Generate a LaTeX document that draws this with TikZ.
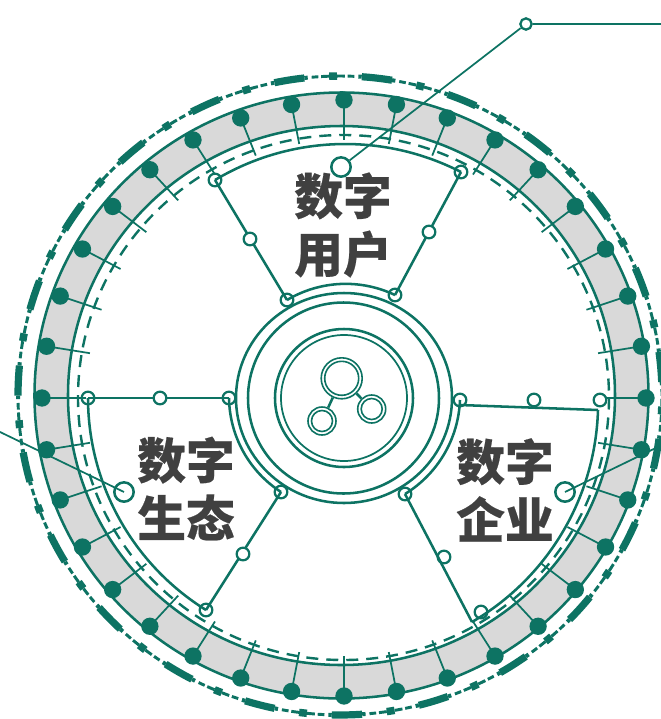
\documentclass[tikz,border=0pt]{standalone}
\usepackage{fontspec}
\newfontfamily\cjk{Noto Sans CJK SC}[BoldFeatures={FakeBold=0.4}]
\usetikzlibrary{calc}
\definecolor{teal0}{HTML}{0D7363}
\definecolor{ringgray}{HTML}{D9D9D9}
\definecolor{txt}{HTML}{404040}
\tikzset{
  base/.style={draw=teal0,line width=1.9pt},
  thin0/.style={draw=teal0,line width=1.3pt},
  dotn/.style={circle,fill=teal0,draw=none,minimum size=13pt,inner sep=0pt},
  knot/.style={circle,draw=teal0,line width=1.7pt,minimum size=9.5pt,inner sep=0pt},
  midknot/.style={knot,fill=white},
  bigknot/.style={circle,draw=teal0,line width=1.9pt,minimum size=14.5pt,inner sep=0pt},
  title/.style={font=\cjk\bfseries\fontsize{36.5}{43.5}\selectfont,text=txt,align=center,inner sep=0pt},
  arcbend/.style={looseness=0.91},
}
\newcommand{\oarc}[3]{\draw[teal0,line width=#3] (340,395.5) ++({#1-90}:322 and 319.5) arc[start angle={#1-90},end angle={#2-90},x radius=322,y radius=319.5];}
\begin{document}
\begin{tikzpicture}[x=0.75pt,y=-0.75pt]
\useasboundingbox (0,0) rectangle (661,719);
\clip (0,0) rectangle (661,719);
% grey ring
\path[fill=ringgray,even odd rule] (341.5,395.5) circle[x radius=307,y radius=303] (341.5,395.5) circle[x radius=273.5,y radius=269.5];
\draw[base] (341.5,395.5) circle[x radius=307,y radius=303];
\draw[base] (341.5,395.5) circle[x radius=273.5,y radius=269.5];
% dashed circle
\draw[teal0,line width=1.8pt,dash pattern=on 9pt off 6pt] (343.5,397.5) circle[x radius=265.5,y radius=262.5];
% dots and tails
\foreach \i in {0,...,35}{
  \node[dotn] (d\i) at ($(344,398)+({\i*10}:302 and 298)$) {};
  \coordinate (t\i) at ($(344,398)+({\i*10}:258 and 258)$);
  \draw[thin0] (d\i.center) -- (t\i);
}
% outer decorative circle
\foreach \k in {0,...,22}{
  \pgfmathsetmacro{\a}{6.6+\k*15.652}
  \pgfmathsetmacro{\b}{\a+7.826}
  \oarc{\a-2.7}{\a+2.7}{5.4pt}
  \oarc{\b-0.7}{\b+0.7}{5.6pt}
  \oarc{\a+2.7}{\a+3.3}{3pt}
  \oarc{\a+4.0}{\a+5.2}{2.2pt}
  \oarc{\a+5.7}{\a+7.1}{2.2pt}
  \oarc{\b+0.7}{\b+2.1}{2.2pt}
  \oarc{\b+2.6}{\b+3.8}{2.2pt}
  \oarc{\b+4.5}{\b+5.1}{3pt}
}
% central rings
\draw[base] (344,398) circle[x radius=108,y radius=105];
\draw[base] (343.5,398) circle[radius=95.5];
\draw[base] (344,398) circle[radius=69];
\draw[thin0] (344,398) circle[radius=63];
% sector 1 nodes
\node[knot] (a1) at (215,180) {};
\node[knot] (a2) at (461,172) {};
\node[knot] (a3) at (395,295) {};
\node[knot] (a4) at (287,300) {};
\draw[base] (a4.center) -- (a1.center);
\draw[base] (a3.center) -- (a2.center);
\draw[base] (a1.center) to[bend left=29,arcbend] (a2.center);
\draw[base] (a4.center) to[bend left=28,arcbend] (a3.center);
\node[midknot] (a5) at (250,239) {};
\node[midknot] (a6) at (429,232) {};
% sector 2 nodes
\node[knot] (b1) at (460,400) {};
\node[midknot] (b2) at (534,400) {};
\node[midknot] (b3) at (600,400) {};
\node[midknot] (b4) at (481,612) {};
\node[midknot] (b5) at (444,557) {};
\node[knot] (b6) at (405,494) {};
\coordinate (b7) at (460,405);
\coordinate (b8) at (598,410);
\coordinate (b9) at (472,622);
\draw[base] (b7) -- (b8);
\draw[base] (b9) -- (b6.center);
\draw[base] (b8) to[bend left=29,arcbend] (b9);
\draw[base] (b1.center) to[bend left=28,arcbend] (b6.center);
% sector 3 nodes
\node[knot] (c1) at (88,398) {};
\node[knot] (c2) at (229,398) {};
\node[knot] (c3) at (281,492) {};
\node[knot] (c4) at (206,610) {};
\draw[base] (c1.center) -- (c2.center);
\draw[base] (c3.center) -- (c4.center);
\draw[base] (c4.center) to[bend left=29,arcbend] (c1.center);
\draw[base] (c3.center) to[bend left=28,arcbend] (c2.center);
\node[midknot] (c5) at (160,398) {};
\node[midknot] (c6) at (243,554) {};
% leaders
\node[bigknot,fill=white] (L1) at (341,167) {};
\node[knot,minimum size=8.5pt] (L2) at (526,24) {};
\coordinate (L3) at (661,24);
\draw[thin0] (L1) -- (L2) -- (L3);
\node[bigknot] (R1) at (565,492) {};
\coordinate (R2) at (664,444);
\draw[thin0] (R1.center) -- (R2);
\node[bigknot] (S1) at (124,492) {};
\coordinate (S2) at (-2,431);
\draw[thin0] (S1.center) -- (S2);
% icon
\foreach \n/\x/\y/\r in {ic1/341.7/378.3/20.5,ic2/322/421/14,ic3/371.7/409/14}{
  \node[circle,minimum size={2*\r*0.75pt},inner sep=0pt,draw=teal0,line width=1.2pt] (\n) at (\x,\y) {};
  \draw[teal0,line width=1.2pt] (\x,\y) circle[radius={\r-3.5}];
}
\draw[base] (ic1) -- (ic2);
\draw[base] (ic1) -- (ic3);
% titles
\node[title] (T1) at (343,225) {数字\\用户};
\node[title] (T2) at (186,488.5) {数字\\生态};
\node[title] (T3) at (505,490) {数字\\企业};
\end{tikzpicture}
\end{document}
